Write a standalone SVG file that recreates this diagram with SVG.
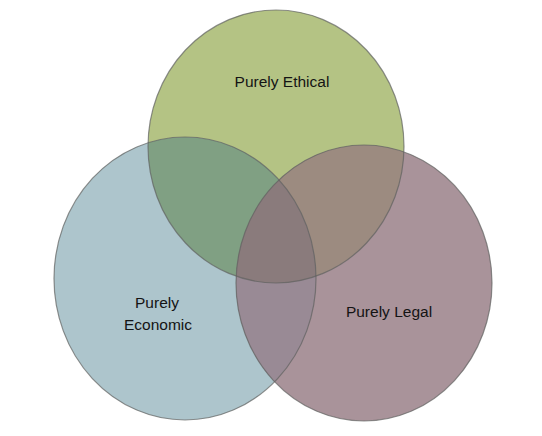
<svg xmlns="http://www.w3.org/2000/svg" width="542" height="436" viewBox="0 0 542 436">
<style>
.outline{fill:none;stroke:#5f6160;stroke-width:1.2;stroke-opacity:0.7}
.lbl{font-family:"Liberation Sans",Arial,sans-serif;font-size:15.5px;fill:#141414;text-anchor:middle}
</style>
<defs>
<clipPath id="cG"><ellipse cx="276" cy="146.5" rx="128" ry="136.5"/></clipPath>
<clipPath id="cB"><ellipse cx="185" cy="278.5" rx="131" ry="141.5"/></clipPath>
<clipPath id="cM"><ellipse cx="364" cy="283" rx="128" ry="138"/></clipPath>
</defs>
<rect width="542" height="436" fill="#ffffff"/>
<g id="ethical">
<ellipse cx="276" cy="146.5" rx="128" ry="136.5" fill="#b4c384"/>
</g>
<g id="economic">
<ellipse cx="185" cy="278.5" rx="131" ry="141.5" fill="#adc5cc"/>
</g>
<g id="legal">
<ellipse cx="364" cy="283" rx="128" ry="138" fill="#a9939a"/>
</g>
<g id="overlaps">
<g clip-path="url(#cG)"><ellipse cx="185" cy="278.5" rx="131" ry="141.5" fill="#80a083"/></g>
<g clip-path="url(#cG)"><ellipse cx="364" cy="283" rx="128" ry="138" fill="#9c8b80"/></g>
<g clip-path="url(#cB)"><ellipse cx="364" cy="283" rx="128" ry="138" fill="#998a95"/></g>
<g clip-path="url(#cG)"><g clip-path="url(#cB)"><ellipse cx="364" cy="283" rx="128" ry="138" fill="#8a7b7c"/></g></g>
</g>
<g id="outlines">
<ellipse class="outline" cx="276" cy="146.5" rx="128" ry="136.5"/>
<ellipse class="outline" cx="185" cy="278.5" rx="131" ry="141.5"/>
<ellipse class="outline" cx="364" cy="283" rx="128" ry="138"/>
</g>
<g id="labels">
<text class="lbl" x="282" y="87">Purely Ethical</text>
<text class="lbl" x="157" y="308">Purely</text>
<text class="lbl" x="158" y="330">Economic</text>
<text class="lbl" x="389" y="317">Purely Legal</text>
</g>
</svg>
